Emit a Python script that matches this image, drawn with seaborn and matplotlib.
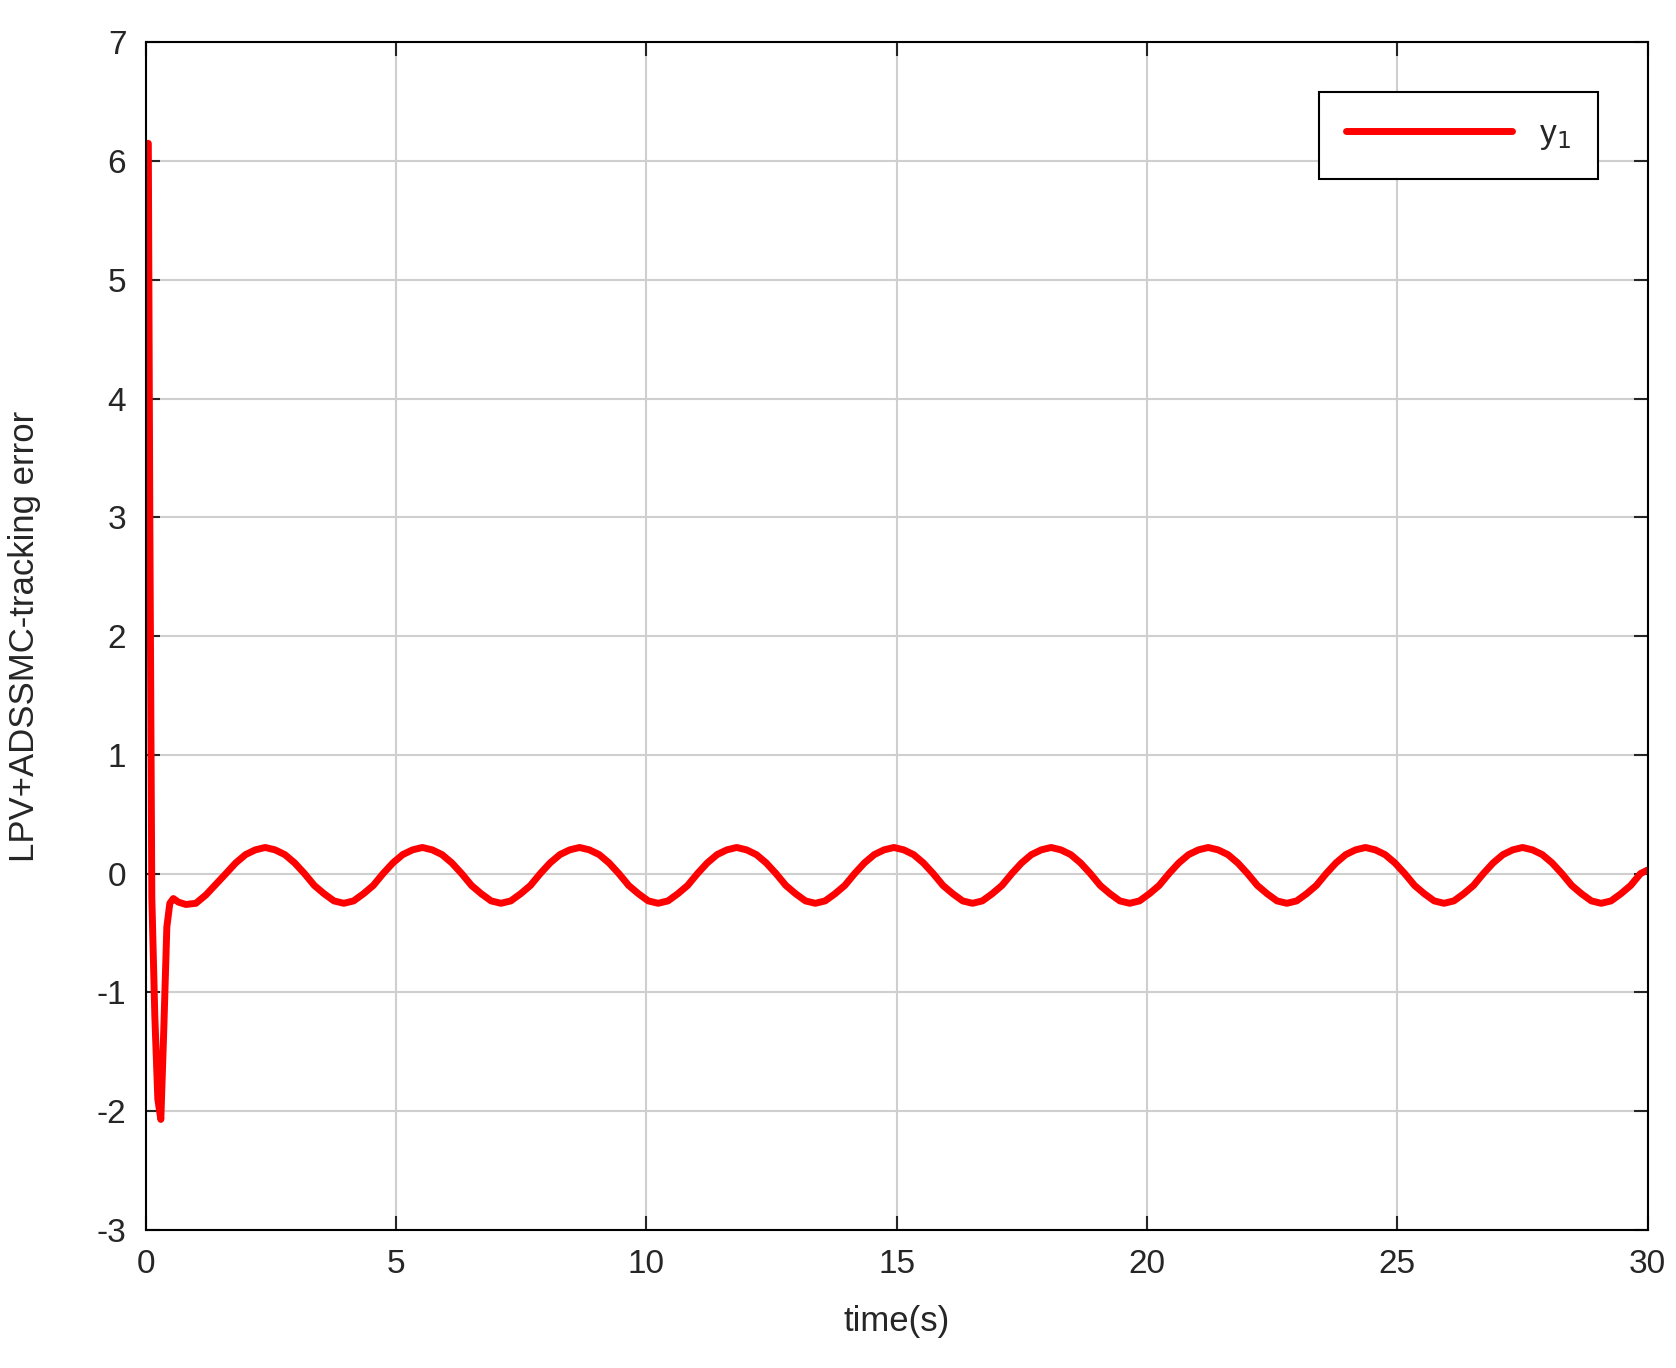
import matplotlib
matplotlib.use("Agg")
import matplotlib.pyplot as plt
import seaborn as sns
import pandas as pd

sns.set_theme(style="ticks")
plt.rcParams['font.family'] = ['Liberation Sans', 'DejaVu Sans']
plt.rcParams['axes.unicode_minus'] = False

# transient part
t_trans = [0.0, 0.05, 0.08, 0.12, 0.18, 0.24, 0.30, 0.36, 0.42, 0.48, 0.55, 0.65, 0.8, 1.0, 1.2, 1.4]
y_trans = [6.15, 6.15, 3.0, -0.2, -1.2, -1.9, -2.07, -1.3, -0.45, -0.25, -0.21, -0.24, -0.26, -0.25, -0.18, -0.09]
# one cycle of the steady oscillation (values read at 1/16-period steps), repeated 9 times
osc_start = 1.6
osc_period = 3.14
cycle_values = [0.0, 0.09, 0.16, 0.2, 0.22, 0.2, 0.16, 0.09, 0.0,
                -0.1, -0.17, -0.23, -0.25, -0.23, -0.17, -0.1]
n_cycles = 9
end_t, end_y = [29.86, 30.0], [0.0, 0.03]

t_osc, y_osc = [], []
for c in range(n_cycles):
    for k, v in enumerate(cycle_values):
        t_osc.append(osc_start + (c + k / len(cycle_values)) * osc_period)
        y_osc.append(v)

df = pd.DataFrame({"t": t_trans + t_osc + end_t, "y": y_trans + y_osc + end_y})

fig = plt.figure(figsize=(16.76, 13.68), dpi=100)
ax = fig.add_axes([0.087, 0.101, 0.896, 0.868])
sns.lineplot(data=df, x="t", y="y", ax=ax, color="#ff0000", linewidth=5, label="y$_1$", sort=False)
ax.set_xlim(0, 30)
ax.set_ylim(-3, 7)
ax.set_xticks(range(0, 31, 5))
ax.set_yticks(range(-3, 8))
ax.grid(True, color="#cfcfcf", linewidth=1.5)
ax.tick_params(direction="in", length=10, width=1.5, labelsize=24, top=True, right=True, pad=14,
               left=True, bottom=True)
for s in ax.spines.values():
    s.set_visible(True); s.set_color("black"); s.set_linewidth(1.5)
ax.set_xlabel("time(s)", fontsize=25, labelpad=18)
ax.set_ylabel("LPV+ADSSMC-tracking error", fontsize=25, labelpad=40)
leg = ax.legend(loc="upper right", fontsize=24, fancybox=False, edgecolor="black",
                framealpha=1, handlelength=5, borderaxespad=1.5, borderpad=0.8)
leg.get_frame().set_linewidth(1.5)
fig.savefig("out.png", dpi=100, facecolor="white")
